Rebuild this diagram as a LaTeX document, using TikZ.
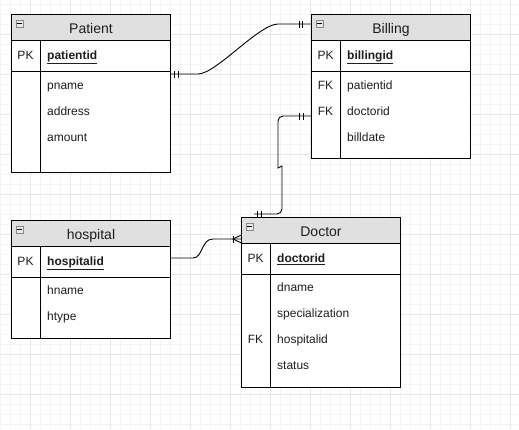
\documentclass[tikz,border=0pt]{standalone}
\usepackage{fontspec}
\setmainfont{Liberation Sans}
\usetikzlibrary{calc}
\definecolor{hdrgray}{HTML}{E0E0E0}
\definecolor{gmaj}{HTML}{E6E6E6}
\definecolor{gmin}{HTML}{F4F4F4}
\definecolor{txt}{HTML}{1E1E1E}
\definecolor{iconfill}{HTML}{EAEAEA}
\definecolor{iconline}{HTML}{888888}

\tikzset{
  entbox/.style={draw=black, line width=1pt, fill=white, inner sep=0pt, rectangle},
  hdrbox/.style={draw=black, line width=1pt, fill=hdrgray, inner sep=0pt, minimum height=26pt, rectangle},
  titletext/.style={anchor=base, font=\fontsize{14}{16}\selectfont, text=txt, inner sep=0pt},
  attr/.style={anchor=base west, font=\fontsize{12}{14}\selectfont, text=txt, inner sep=0pt},
  keytext/.style={anchor=base, font=\fontsize{12}{14}\selectfont, text=txt, inner sep=0pt},
  pktext/.style={anchor=base west, font=\fontsize{12}{14}\selectfont\bfseries, text=txt, inner sep=0pt},
  minusicon/.style={draw=iconline, fill=iconfill, line width=0.6pt, minimum size=7pt, inner sep=0pt, rectangle, anchor=north west},
  conn/.style={draw=black, line width=0.9pt},
  sep/.style={draw=black, line width=1pt}
}

% #1 name, #2 x, #3 y, #4 width, #5 height, #6 title
\newcommand{\ERbox}[6]{%
  \node[entbox, minimum width=#4pt, minimum height=#5pt, anchor=north west] (#1) at (#2,#3) {};
  \node[hdrbox, minimum width=#4pt, anchor=north west] (#1-h) at (#2,#3) {};
  \node[titletext] (#1-t) at ($(#1-h.north)+(0,19.5)$) {#6};
  \node[minusicon] (#1-i) at ($(#1-h.north west)+(4.5,5.5)$) {};
  \draw[black, line width=0.8pt] ($(#1-i.west)+(1.6,0)$) -- ($(#1-i.east)+(-1.6,0)$);
  \draw[sep] ($(#1-h.south west)+(0,30)$) -- ($(#1-h.south east)+(0,30)$);
  \draw[sep] ($(#1-h.south west)+(29,0)$) -- ($(#1.south west)+(29,0)$);
}

\begin{document}
\begin{tikzpicture}[x=1pt,y=-1pt]
\useasboundingbox (0,0) rectangle (519,429);
\fill[white] (0,0) rectangle (519,429);
% grid
\foreach \x in {0.7,10.7,...,518} \draw[gmin, line width=0.6pt] (\x,0) -- (\x,429);
\foreach \y in {4.3,14.3,...,428} \draw[gmin, line width=0.6pt] (0,\y) -- (519,\y);
\foreach \x in {30.7,70.7,...,518} \draw[gmaj, line width=0.8pt] (\x,0) -- (\x,429);
\foreach \y in {34.3,74.3,...,428} \draw[gmaj, line width=0.8pt] (0,\y) -- (519,\y);

% Patient
\ERbox{patient}{11}{14}{159}{158}{Patient}
\node[keytext] (patient-pk) at (25.5,59.5) {PK};
\node[pktext] (patient-a0) at (47,59.5) {\underline{patientid}};
\node[attr] (patient-a1) at (47,89) {pname};
\node[attr] (patient-a2) at (47,115) {address};
\node[attr] (patient-a3) at (47,141) {amount};

% Billing
\ERbox{billing}{311}{14}{159}{144}{Billing}
\node[keytext] (billing-pk) at (325.5,59.5) {PK};
\node[pktext] (billing-a0) at (347,59.5) {\underline{billingid}};
\node[keytext] (billing-fk1) at (325.5,89) {FK};
\node[attr] (billing-a1) at (347,89) {patientid};
\node[keytext] (billing-fk2) at (325.5,115) {FK};
\node[attr] (billing-a2) at (347,115) {doctorid};
\node[attr] (billing-a3) at (347,141) {billdate};

% hospital
\ERbox{hospital}{11}{220}{159}{118}{hospital}
\node[keytext] (hospital-pk) at (25.5,265.5) {PK};
\node[pktext] (hospital-a0) at (47,265.5) {\underline{hospitalid}};
\node[attr] (hospital-a1) at (47,294.5) {hname};
\node[attr] (hospital-a2) at (47,320.5) {htype};

% Doctor
\ERbox{doctor}{241}{217}{159}{170}{Doctor}
\node[keytext] (doctor-pk) at (255.5,262.5) {PK};
\node[pktext] (doctor-a0) at (277,262.5) {\underline{doctorid}};
\node[attr] (doctor-a1) at (277,291.5) {dname};
\node[attr] (doctor-a2) at (277,317.5) {specialization};
\node[keytext] (doctor-fk) at (255.5,343.5) {FK};
\node[attr] (doctor-a3) at (277,343.5) {hospitalid};
\node[attr] (doctor-a4) at (277,369.5) {status};

% Connector Patient -- Billing
\coordinate (c1a) at (170,74);
\coordinate (c1b) at (311,24);
\draw[conn] (c1a) -- ++(28,0) .. controls ++(18,0) and ($(c1b)+(-52,0)$) .. ($(c1b)+(-33,0)$) -- (c1b);
\draw[conn] ($(c1a)+(4.5,-3.5)$) -- ++(0,7);
\draw[conn] ($(c1a)+(8,-3.5)$) -- ++(0,7);
\draw[conn] ($(c1b)+(-12,-3.5)$) -- ++(0,7);
\draw[conn] ($(c1b)+(-8.5,-3.5)$) -- ++(0,7);

% Connector Billing -- Doctor
\coordinate (c2a) at (311,116);
\coordinate (c2b) at (254,214);
\draw[conn, rounded corners=5pt] (c2a) -- (278,116) -- (278,163) .. controls (278,167.5) and (282,166.5) .. (282,171) -- (282,214) -- (c2b);
\draw[conn] ($(c2a)+(-11.5,-3.5)$) -- ++(0,7);
\draw[conn] ($(c2a)+(-8,-3.5)$) -- ++(0,7);
\draw[conn] ($(c2b)+(3.5,-3.5)$) -- ++(0,7);
\draw[conn] ($(c2b)+(7,-3.5)$) -- ++(0,7);

% Connector hospital -- Doctor
\coordinate (c3a) at (170,258);
\coordinate (c3b) at (241,239);
\draw[conn] (c3a) -- (193,258) .. controls (203,258) and (201,239) .. (213,239) -- (c3b);
\draw[conn] ($(c3b)+(-8,-3.5)$) -- ++(0,7);
\draw[conn] ($(c3b)+(0,-3.8)$) -- ($(c3b)+(-8,0)$) -- ($(c3b)+(0,3.8)$);
\end{tikzpicture}
\end{document}
